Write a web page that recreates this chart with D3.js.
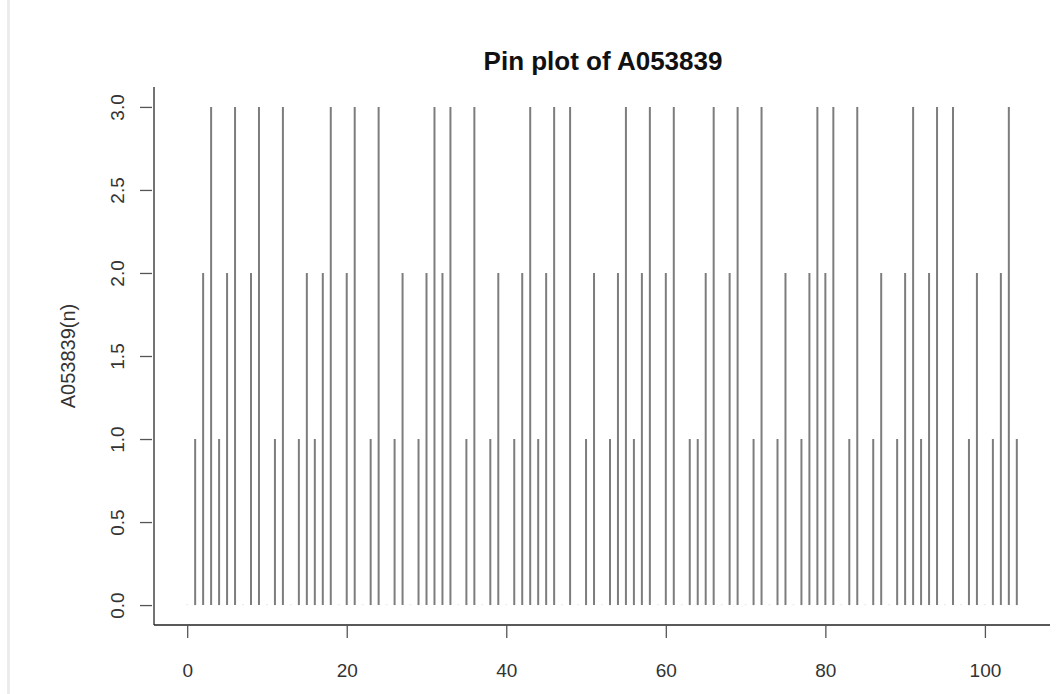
<!DOCTYPE html>
<html><head><meta charset="utf-8">
<script src="https://cdn.jsdelivr.net/npm/d3@7"></script>
<style>
html,body{margin:0;padding:0;background:#fff;}
svg{display:block;}
.tick text{font-family:'Liberation Sans', Arial, sans-serif; font-size:19px; fill:#333;}
</style></head>
<body>
<svg id="chart" width="1056" height="694"></svg>
<script>
const indices = d3.range(0, 105);
const values = [0,1,2,3,1,2,3,0,2,3,0,1,3,0,1,2,
1,2,3,0,2,3,0,1,3,0,1,2,0,1,2,3,
2,3,0,1,3,0,1,2,0,1,2,3,1,2,3,0,
3,0,1,2,0,1,2,3,1,2,3,0,2,3,0,1,
1,2,3,0,2,3,0,1,3,0,1,2,0,1,2,3,
2,3,0,1,3,0,1,2,0,1,2,3,1,2,3,0,
3,0,1,2,0,1,2,3,1];
const xTicks = [0,20,40,60,80,100];
const yTicks = [0,0.5,1,1.5,2,2.5,3];
const title = "Pin plot of A053839";
const yLabel = "A053839(n)";

const FONT = "'Liberation Sans', Arial, sans-serif";
const svg = d3.select("#chart");
const L = 154, R = 1050, T = 87, B = 625;
const x = d3.scaleLinear().domain([-4.16, 108.16]).range([L, R]);
const y = d3.scaleLinear().domain([-0.12, 3.12]).range([B, T]);

svg.append("rect").attr("x",0).attr("y",0).attr("width",1056).attr("height",694).attr("fill","#fff");
svg.append("rect").attr("x",7).attr("y",0).attr("width",3).attr("height",694).attr("fill","#ececec");

// pins
svg.append("g").selectAll("line").data(indices).join("line")
  .attr("x1", i => x(i)).attr("x2", i => x(i))
  .attr("y1", y(0)).attr("y2", i => values[i] === 0 ? y(0) - 0.6 : y(values[i]))
  .attr("stroke", i => values[i] === 0 ? "#d8d8d8" : "#7d7d7d")
  .attr("stroke-width", 2);

// axes lines (L box)
svg.append("line").attr("x1",L).attr("x2",L).attr("y1",T).attr("y2",B).attr("stroke","#444").attr("stroke-width",1.5);
svg.append("line").attr("x1",L).attr("x2",R).attr("y1",B).attr("y2",B).attr("stroke","#222").attr("stroke-width",1.5);

// x axis
const xa = svg.append("g").attr("transform", `translate(0,${B})`)
  .call(d3.axisBottom(x).tickValues(xTicks).tickSize(13).tickPadding(0).tickFormat(d3.format("d")));
xa.attr("font-size", null).attr("font-family", null);
xa.select(".domain").remove();
xa.selectAll("line").attr("stroke","#555").attr("stroke-width",1.3);
xa.selectAll("text").style("font-size","19px").style("font-family",FONT).attr("fill","#333")
  .attr("y",45).attr("dy",null).attr("dominant-baseline","central");

// y axis
const ya = svg.append("g").attr("transform", `translate(${L-2},0)`)
  .call(d3.axisLeft(y).tickValues(yTicks).tickSize(12).tickFormat(d3.format(".1f")));
ya.attr("font-size", null).attr("font-family", null);
ya.select(".domain").remove();
ya.selectAll("line").attr("stroke","#555").attr("stroke-width",1.3);
ya.selectAll("text")
  .style("font-size","19px").style("font-family",FONT).attr("fill","#333")
  .attr("text-anchor","middle").attr("dy",null).attr("x",null)
  .attr("transform", `translate(-35,0) rotate(-90)`)
  .attr("dominant-baseline","central");

// title
svg.append("text").attr("x",(L+R)/2 + 1).attr("y",70).attr("text-anchor","middle")
  .attr("font-family",FONT).attr("font-weight","bold").attr("font-size",26).attr("fill","#111")
  .text(title);

// y label
svg.append("text").attr("transform",`translate(68,${(T+B)/2}) rotate(-90)`).attr("text-anchor","middle").attr("dominant-baseline","central")
  .attr("font-family",FONT).attr("font-size",20).attr("fill","#333")
  .text(yLabel);
</script>
</body></html>
